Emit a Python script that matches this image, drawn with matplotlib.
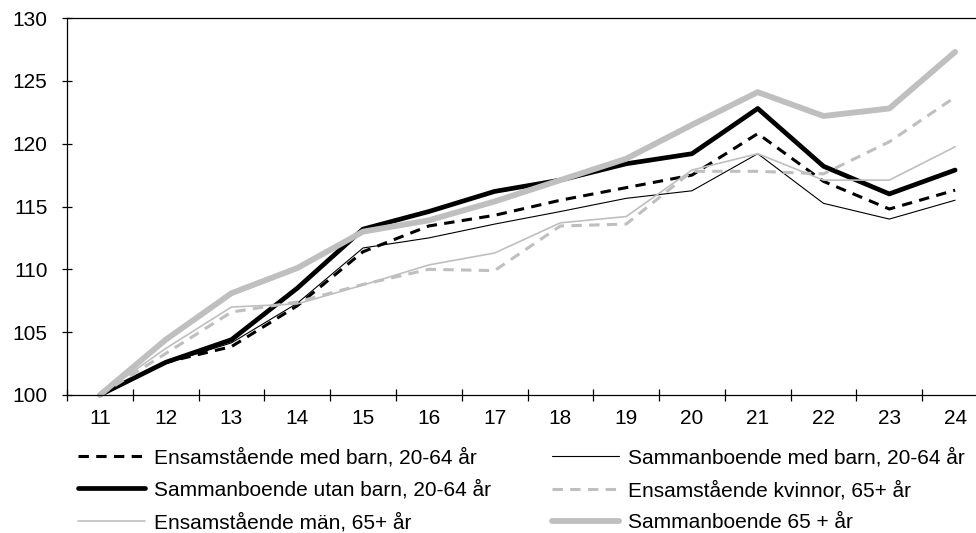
import matplotlib
matplotlib.use("Agg")
import matplotlib.pyplot as plt
import numpy as np

plt.rcParams['font.family'] = ['Liberation Sans', 'DejaVu Sans']

years = ["11", "12", "13", "14", "15", "16", "17", "18", "19", "20", "21", "22", "23", "24"]

ensam_med_barn = [100, 102.6, 103.85, 107.1, 111.4, 113.45, 114.3, 115.5, 116.5, 117.5, 120.8, 117.0, 114.8, 116.3]
samman_med_barn = [100, 102.5, 104.15, 107.3, 111.7, 112.5, 113.6, 114.6, 115.65, 116.25, 119.2, 115.25, 114.0, 115.5]
samman_utan_barn = [100, 102.6, 104.4, 108.5, 113.2, 114.6, 116.2, 117.1, 118.4, 119.2, 122.8, 118.2, 116.0, 117.9]
ensam_kvinnor = [100, 103.3, 106.6, 107.4, 108.8, 110.0, 109.9, 113.45, 113.6, 117.8, 117.8, 117.6, 120.15, 123.7]
ensam_man = [100, 103.7, 107.0, 107.25, 108.75, 110.35, 111.3, 113.7, 114.2, 117.9, 119.2, 117.1, 117.1, 119.75]
samman_65 = [100, 104.4, 108.1, 110.1, 113.0, 113.9, 115.4, 117.1, 118.8, 121.5, 124.1, 122.2, 122.8, 127.3]

labels = [
    "Ensamstående med barn, 20-64 år",
    "Sammanboende med barn, 20-64 år",
    "Sammanboende utan barn, 20-64 år",
    "Ensamstående kvinnor, 65+ år",
    "Ensamstående män, 65+ år",
    "Sammanboende 65 + år",
]
yticks = [100, 105, 110, 115, 120, 125, 130]

GRAY = "#BFBFBF"
FS = 15

W, H = 976, 533
fig = plt.figure(figsize=(W / 100, H / 100), dpi=100)
ax = fig.add_axes([67 / W, (H - 395) / H, 921 / W, 377 / H])

x = np.arange(len(years))
styles = [
    dict(color="black", lw=2.2, ls=(0, (3.4, 2.4))),
    dict(color="black", lw=0.8, ls="-"),
    dict(color="black", lw=3.4, ls="-"),
    dict(color=GRAY, lw=2.2, ls=(0, (3.4, 2.4))),
    dict(color=GRAY, lw=1.2, ls="-"),
    dict(color=GRAY, lw=4.2, ls="-"),
]
series = [ensam_med_barn, samman_med_barn, samman_utan_barn, ensam_kvinnor, ensam_man, samman_65]
handles = []
for s, st, lab in zip(series, styles, labels):
    h, = ax.plot(x, s, color=st["color"], lw=st["lw"], linestyle=st["ls"], label=lab,
                 solid_joinstyle="round", solid_capstyle="round", dash_capstyle="butt",
                 clip_on=False)
    handles.append(h)

ax.set_xlim(-0.5, len(years) - 0.5)
ax.set_ylim(100, 130)
ax.set_yticks(yticks)
ax.set_yticklabels([str(v) for v in yticks])
ax.set_xticks(x)
ax.set_xticklabels(years)
ax.set_xticks(np.arange(-0.5, len(years), 1.0), minor=True)

for sp in ["left", "top", "bottom"]:
    ax.spines[sp].set_color("black")
    ax.spines[sp].set_linewidth(0.9)
ax.spines["right"].set_visible(False)

ax.tick_params(axis="x", which="major", length=0, pad=10, labelsize=FS)
ax.tick_params(axis="x", which="minor", length=8.6, direction="inout", width=0.9)
ax.tick_params(axis="y", which="major", length=7.2, direction="inout", width=0.9, pad=10.5, labelsize=FS)

leg_kw = dict(loc="center left", frameon=False, fontsize=FS, borderpad=0, borderaxespad=0,
              handlelength=3.2, handletextpad=0.45, labelspacing=0.62)
fig.legend([handles[0], handles[2], handles[4]], [labels[0], labels[2], labels[4]],
           bbox_to_anchor=(78 / W, 1 - 490 / H), **leg_kw)
fig.legend([handles[1], handles[3], handles[5]], [labels[1], labels[3], labels[5]],
           bbox_to_anchor=(552 / W, 1 - 490 / H), **leg_kw)

fig.savefig("out.png", dpi=100)
